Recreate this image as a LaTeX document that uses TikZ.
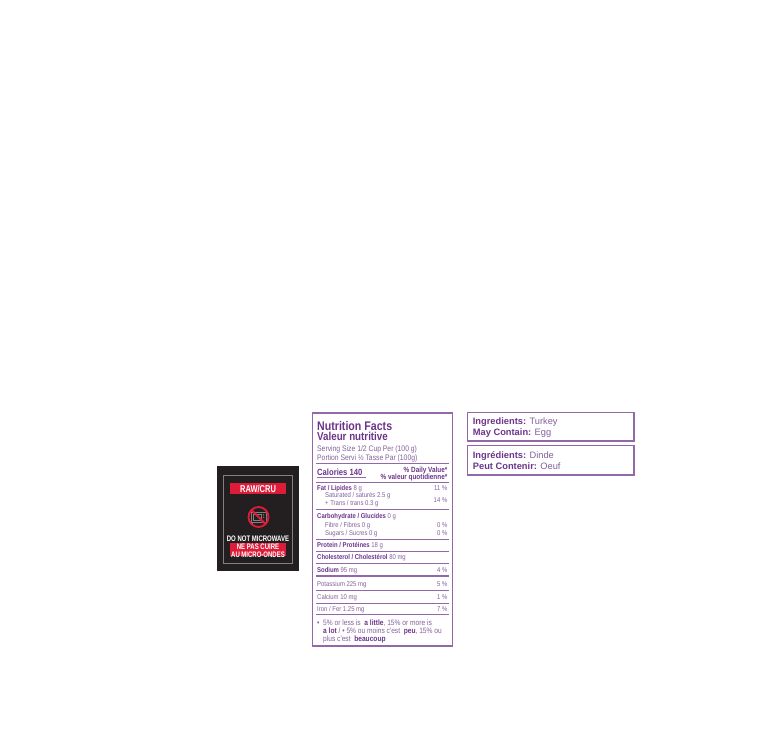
\documentclass[tikz,border=0pt]{standalone}
\usepackage{fontspec}
\setmainfont{Liberation Sans}
\newfontfamily\nfcond[FakeStretch=0.85]{Liberation Sans}
\newfontfamily\rawcond[FakeStretch=0.75]{Liberation Sans}
\usepackage{xcolor}
\definecolor{nfPurple}{RGB}{108,52,138}
\definecolor{nfText}{RGB}{132,96,156}
\definecolor{nfRule}{RGB}{146,104,170}
\definecolor{rawBlack}{RGB}{35,31,32}
\definecolor{rawRed}{RGB}{222,28,58}
\definecolor{rawGrey}{RGB}{128,128,128}
\newcommand{\nfbold}[1]{{\bfseries\color{nfPurple}#1}}

\begin{document}
\begin{tikzpicture}[x=1pt,y=-1pt,
    nfbox/.style={draw=nfRule,line width=1.1pt},
    nfrule/.style={draw=nfRule,line width=0.6pt},
    nfthick/.style={draw=nfRule,line width=1.6pt},
    nftxt/.style={inner sep=0pt,anchor=base west,text=nfText,font=\nfcond\fontsize{7}{8}\selectfont},
    nfpct/.style={nftxt,anchor=base east},
    nfhead/.style={inner sep=0pt,anchor=base west,text=nfPurple,font=\nfcond\bfseries\fontsize{#1}{#1}\selectfont},
    rawtxt/.style={inner sep=0pt,anchor=base,text=white,font=\rawcond\bfseries\fontsize{#1}{#1}\selectfont},
    ingtxt/.style={inner sep=0pt,anchor=base west,text=nfText,font=\fontsize{9.3}{11}\selectfont}]
    % page
    \fill[white] (0,0) rectangle (768,741);
    \useasboundingbox (0,0) rectangle (768,741);

    % RAW/CRU label
    \fill[rawBlack] (217,466) rectangle (299,570.5);
    \draw[rawGrey,line width=0.7pt] (223.5,475) rectangle (292.5,563);
    \fill[rawRed] (230,483) rectangle (286,494);
    \node[rawtxt=10] (raw) at (258,492.2) {RAW/CRU};
    % no microwave icon
    \draw[rawGrey,line width=0.8pt] (251,512) rectangle (266,522.5);
    \draw[rawGrey,line width=0.6pt] (253,514) rectangle (261.5,520.5);
    \fill[rawGrey] (263.6,514.8) circle (0.7) (263.6,517.2) circle (0.7);
    \draw[rawGrey,line width=0.6pt] (252,522.5) -- (252,524) (265,522.5) -- (265,524);
    \draw[rawRed,line width=1.8pt] (258.5,517) circle (10);
    \draw[rawRed,line width=1.8pt] (251.4,509.9) -- (265.6,524.1);
    \node[rawtxt=8] (nomw) at (258,541.7) {DO NOT MICROWAVE};
    \fill[rawRed] (229.5,542.8) rectangle (285.5,555.5);
    \node[rawtxt=8] (nepas) at (258,549.6) {NE PAS CUIRE};
    \node[rawtxt=8] (aumicro) at (258,557) {AU MICRO-ONDES};

    % Nutrition Facts table
    \draw[nfbox] (312.7,413) rectangle (452.7,646);
    \node[nfhead=12.5] (nf) at (317,430) {Nutrition Facts};
    \node[nfhead=11.5] (vn) at (317,440) {Valeur nutritive};
    \node[nftxt,font=\nfcond\fontsize{8}{9}\selectfont] (serv) at (317,451) {Serving Size 1/2 Cup Per (100 g)};
    \node[nftxt,font=\nfcond\fontsize{8}{9}\selectfont] (port) at (317,460) {Portion Servi ½ Tasse Par (100g)};
    \draw[nfthick] (316,463.5) -- (448.5,463.5);

    \node[nfhead=9] (cal) at (317,475) {Calories 140};
    \draw[draw=nfRule,line width=1pt] (317,477.2) -- (365.5,477.2);
    \node[nfpct,font=\nfcond\bfseries\fontsize{7.5}{8}\selectfont,text=nfPurple] (dv) at (447.5,472.5) {\% Daily Value*};
    \node[nfpct,font=\nfcond\bfseries\fontsize{7.5}{8}\selectfont,text=nfPurple] (vq) at (447.5,479.5) {\% valeur quotidienne*};
    \draw[nfrule] (316,482.5) -- (448.5,482.5);

    % Fat
    \node[nftxt] (fat) at (317,490.5) {\nfbold{Fat / Lipides} 8 g};
    \node[nfpct] (fatp) at (447.5,490.5) {11 \%};
    \node[nftxt] (sat) at (325,497.5) {Saturated / saturés 2.5 g};
    \node[nftxt] (trans) at (325,505.5) {+ Trans / trans 0.3 g};
    \node[nfpct] (satp) at (447.5,502) {14 \%};
    \draw[nfrule] (316,509.5) -- (448.5,509.5);

    % Carbohydrate
    \node[nftxt] (carb) at (317,518.5) {\nfbold{Carbohydrate / Glucides} 0 g};
    \node[nftxt] (fibre) at (325,527.5) {Fibre / Fibres 0 g};
    \node[nfpct] (fibrep) at (447.5,527.5) {0 \%};
    \node[nftxt] (sugar) at (325,535.5) {Sugars / Sucres 0 g};
    \node[nfpct] (sugarp) at (447.5,535.5) {0 \%};
    \draw[nfrule] (316,539.5) -- (448.5,539.5);

    \node[nftxt] (prot) at (317,547.5) {\nfbold{Protein / Protéines} 18 g};
    \draw[nfrule] (316,551.5) -- (448.5,551.5);
    \node[nftxt] (chol) at (317,559.5) {\nfbold{Cholesterol / Cholestérol} 80 mg};
    \draw[nfrule] (316,563.5) -- (448.5,563.5);
    \node[nftxt] (sod) at (317,572) {\nfbold{Sodium} 95 mg};
    \node[nfpct] (sodp) at (447.5,572) {4 \%};
    \draw[nfthick] (316,576) -- (448.5,576);

    % Minerals
    \node[nftxt] (pot) at (317,586) {Potassium 225 mg};
    \node[nfpct] (potp) at (447.5,586) {5 \%};
    \draw[nfrule] (316,590) -- (448.5,590);
    \node[nftxt] (calc) at (317,599.5) {Calcium 10 mg};
    \node[nfpct] (calcp) at (447.5,599.5) {1 \%};
    \draw[nfrule] (316,603) -- (448.5,603);
    \node[nftxt] (iron) at (317,611) {Iron / Fer 1.25 mg};
    \node[nfpct] (ironp) at (447.5,611) {7 \%};
    \draw[nfthick] (316,614.5) -- (448.5,614.5);

    % footnote
    \node[nftxt,font=\nfcond\fontsize{7.8}{9}\selectfont] (fbul) at (317,625) {•};
    \node[nftxt,font=\nfcond\fontsize{7.8}{9}\selectfont] (foot1) at (323,625) {5\% or less is\ \ \nfbold{a little}, 15\% or more is};
    \node[nftxt,font=\nfcond\fontsize{7.8}{9}\selectfont] (foot2) at (323,633) {\nfbold{a lot} / • 5\% ou moins c'est\ \ \nfbold{peu}, 15\% ou};
    \node[nftxt,font=\nfcond\fontsize{7.8}{9}\selectfont] (foot3) at (323,641) {plus c'est\ \ \nfbold{beaucoup}};

    % Ingredients (English)
    \draw[nfbox] (467.3,412.3) rectangle (634,441);
    \node[ingtxt] (ingen) at (472.7,424.5) {\nfbold{Ingredients:} Turkey};
    \node[ingtxt] (mayen) at (472.7,435) {\nfbold{May Contain:} Egg};

    % Ingredients (French)
    \draw[nfbox] (467.3,445.7) rectangle (634,475);
    \node[ingtxt] (ingfr) at (472.7,458.5) {\nfbold{Ingrédients:} Dinde};
    \node[ingtxt] (peutfr) at (472.7,469.5) {\nfbold{Peut Contenir:} Oeuf};
\end{tikzpicture}
\end{document}
